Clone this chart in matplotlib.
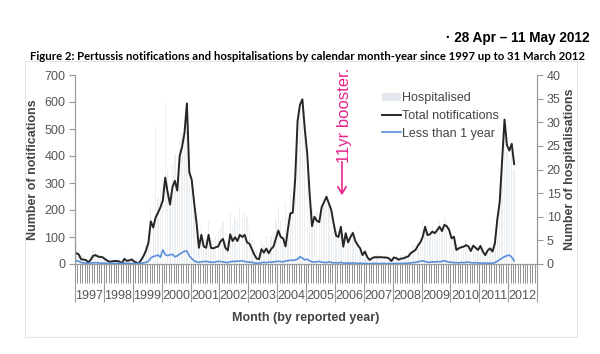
import numpy as np
import matplotlib
matplotlib.use('Agg')
import matplotlib.pyplot as plt
from matplotlib.lines import Line2D
from matplotlib.patches import Patch, Rectangle, FancyArrowPatch
import matplotlib.transforms as mtrans

plt.rcParams['font.family'] = ['Liberation Sans', 'DejaVu Sans']

years = list(range(1997, 2013))

# monthly values, Jan 1997 - Mar 2012
total = [
    40, 36, 18, 16, 15, 6, 15, 30, 33, 28, 26, 25,          # 1997
    18, 12, 8, 10, 11, 11, 9, 3, 19, 12, 13, 17,            # 1998
    10, 5, 3, 15, 30, 50, 78, 158, 135, 172, 190, 210,      # 1999
    235, 320, 265, 220, 285, 308, 272, 400, 434, 485, 595, 340,  # 2000
    312, 228, 153, 60, 108, 65, 60, 108, 60, 58, 62, 65,    # 2001
    84, 93, 60, 50, 110, 85, 99, 85, 108, 100, 108, 80,     # 2002
    75, 55, 35, 20, 18, 55, 42, 57, 40, 55, 65, 95,         # 2003
    124, 100, 95, 65, 130, 188, 190, 315, 530, 590, 610, 500,  # 2004
    410, 262, 140, 175, 160, 155, 210, 230, 249, 225, 200, 150,  # 2005
    105, 100, 138, 64, 114, 80, 100, 115, 85, 70, 58, 33,   # 2006
    46, 25, 15, 22, 25, 25, 25, 25, 24, 24, 21, 11,         # 2007
    24, 22, 16, 20, 21, 25, 28, 40, 46, 52, 68, 80,         # 2008
    100, 138, 107, 110, 120, 114, 125, 138, 122, 145, 140, 126,  # 2009
    95, 101, 52, 58, 62, 64, 70, 65, 48, 68, 60, 52,        # 2010
    67, 46, 33, 50, 58, 46, 77, 165, 230, 385, 535, 440,    # 2011
    420, 445, 370,                                          # 2012
]

under1 = [
    12, 10, 6, 4, 3, 3, 4, 4, 5, 4, 3, 3,
    3, 2, 2, 3, 2, 2, 3, 2, 3, 3, 2, 2,
    2, 2, 2, 3, 4, 6, 10, 22, 28, 30, 33, 25,
    52, 35, 31, 34, 36, 27, 30, 37, 42, 47, 48, 30,
    20, 12, 8, 6, 8, 9, 10, 8, 7, 6, 8, 10,
    9, 8, 6, 5, 8, 10, 9, 11, 10, 12, 9, 8,
    7, 6, 4, 3, 3, 5, 6, 5, 7, 6, 8, 9,
    10, 9, 8, 11, 12, 14, 13, 15, 18, 27, 22, 15,
    18, 12, 8, 7, 8, 10, 7, 6, 5, 8, 6, 4,
    5, 4, 6, 3, 4, 3, 3, 4, 3, 2, 3, 2,
    2, 2, 1, 2, 2, 2, 1, 2, 2, 1, 2, 1,
    2, 2, 1, 2, 2, 3, 3, 4, 5, 6, 8, 10,
    12, 9, 7, 6, 8, 7, 9, 8, 10, 12, 9, 7,
    6, 5, 5, 4, 6, 5, 6, 7, 5, 4, 5, 4,
    3, 3, 4, 3, 3, 3, 5, 10, 16, 22, 27, 31,
    33, 25, 12,
]

hospitalised = [
    4, 3, 2, 2, 1, 1, 2, 3, 3, 2, 2, 1,
    1, 1, 1, 1, 1, 1, 1, 0, 2, 1, 1, 1,
    1, 1, 0, 1, 2, 4, 6, 12, 9, 29, 14, 16,
    18, 34, 20, 15, 21, 23, 19, 26, 28, 30, 33, 22,
    18, 14, 10, 5, 8, 5, 5, 9, 5, 5, 6, 7,
    8, 9, 5, 5, 11, 8, 10, 9, 12, 10, 11, 10,
    8, 5, 5, 3, 2, 5, 4, 6, 4, 6, 7, 9,
    12, 9, 6, 13, 10, 15, 14, 20, 27, 32, 34, 28,
    22, 16, 12, 8, 11, 9, 11, 12, 15, 13, 12, 9,
    7, 6, 8, 4, 7, 5, 6, 7, 5, 4, 3, 2,
    3, 2, 1, 2, 2, 2, 2, 1, 2, 1, 1, 1,
    2, 1, 1, 2, 2, 2, 3, 3, 4, 4, 5, 6,
    9, 8, 7, 7, 8, 7, 8, 9, 7, 10, 9, 8,
    6, 6, 4, 4, 4, 4, 5, 4, 3, 4, 3, 3,
    4, 3, 2, 3, 3, 3, 5, 10, 14, 22, 29, 24,
    22, 24, 20,
]

x = np.arange(len(total)) + 0.5
grey_txt = '#555555'
axis_col = '#9a9a9a'
bar_col = '#eceff2'

fig = plt.figure(figsize=(6, 3.54), dpi=100)
fig.patch.set_facecolor('white')

# light frame round the chart
fig.add_artist(Rectangle((25 / 600, 1 - 337 / 354), 552 / 600, 276 / 354,
                         transform=fig.transFigure, fill=False,
                         edgecolor='#e4e4e4', linewidth=0.8))

ax = fig.add_axes([75 / 600, 1 - 264 / 354, 462 / 600, 189 / 354])
axh = ax.twinx()

axh.bar(x, hospitalised, width=0.55, color=bar_col, linewidth=0)
axh.set_ylim(0, 40)
axh.set_yticks(range(0, 41, 5))

ax.set_zorder(axh.get_zorder() + 1)
ax.patch.set_visible(False)
ax.plot(x, total, color='#262626', linewidth=1.4)
ax.plot(x, under1, color='#5b8fd8', linewidth=1.2)
ax.set_ylim(0, 700)
ax.set_yticks(range(0, 701, 100))
ax.set_xlim(0, 12 * len(years))

for a in (ax, axh):
    a.spines['top'].set_visible(False)
    for s in ('left', 'right', 'bottom'):
        a.spines[s].set_color(axis_col)
        a.spines[s].set_linewidth(0.8)
    a.tick_params(axis='y', colors=axis_col, labelcolor=grey_txt,
                  labelsize=9, length=4, width=0.8, pad=3)

ax.set_xticks(range(0, 12 * len(years) + 1, 12))
ax.set_xticks(range(0, 12 * len(years) + 1), minor=True)
ax.tick_params(axis='x', which='major', length=27, width=0.8,
               colors=axis_col, labelbottom=False)
ax.tick_params(axis='x', which='minor', length=13.5, width=0.6,
               colors='#808080')

trans = mtrans.blended_transform_factory(ax.transData, ax.transAxes)
for i, yr in enumerate(years):
    ax.text(12 * i + 6, -32 / 189, str(yr), transform=trans,
            ha='center', va='center', fontsize=9, color=grey_txt)

ax.set_ylabel('Number of notifications', fontsize=9, fontweight='bold',
              color='#444444', labelpad=4)
axh.set_ylabel('Number of hospitalisations', fontsize=9, fontweight='bold',
               color='#444444', labelpad=2)
fig.text(306 / 600, 1 - 318 / 354, 'Month (by reported year)',
         ha='center', va='center', fontsize=9, fontweight='bold',
         color='#444444')

handles = [Patch(facecolor='#e3e7eb', edgecolor='none'),
           Line2D([], [], color='#262626', linewidth=1.4),
           Line2D([], [], color='#5b8fd8', linewidth=1.2)]
fig.legend(handles, ['Hospitalised', 'Total notifications', 'Less than 1 year'],
           loc='upper left', bbox_to_anchor=(376 / 600, 1 - 86 / 354),
           frameon=False, fontsize=9, handlelength=1.5, handletextpad=0.1,
           labelspacing=0.45, borderpad=0, labelcolor='#444444')

# hand-written note
pink = '#e8248c'
fig.text(344 / 600, 1 - 115 / 354, '11yr booster.', rotation=90,
         ha='center', va='center', fontsize=12, color=pink)
fig.add_artist(FancyArrowPatch(
    (342 / 600, 1 - 159 / 354), (342 / 600, 1 - 198 / 354),
    transform=fig.transFigure, arrowstyle='->,head_length=5,head_width=3',
    color=pink, linewidth=1.2))

fig.text(589 / 600, 1 - 38 / 354, '\u00b7 28 Apr \u2013 11 May 2012',
         ha='right', va='center', fontsize=9.8, fontweight='bold')
fig.text(307 / 600, 1 - 56 / 354,
         'Figure 2: Pertussis notifications and hospitalisations by calendar '
         'month-year since 1997 up to 31 March 2012',
         ha='center', va='center', fontsize=8.2, fontweight='bold',
         family=['Lato', 'DejaVu Sans'])

fig.savefig('out.png', dpi=100)
